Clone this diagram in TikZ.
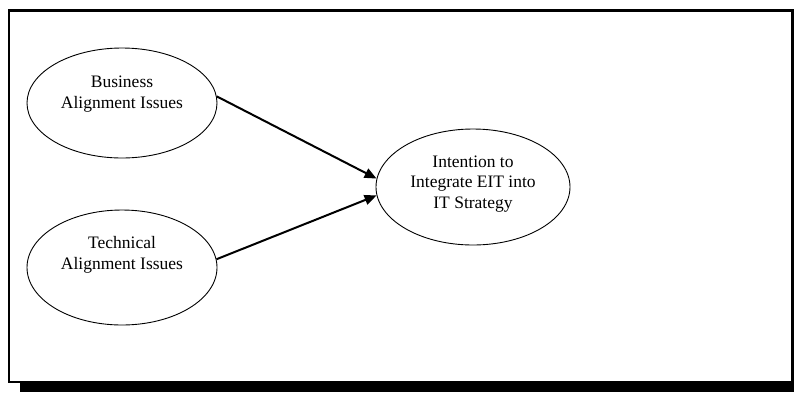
\documentclass[tikz,border=0pt]{standalone}
\usepackage{fontspec}
\setmainfont{Liberation Serif}
\usetikzlibrary{arrows.meta,shapes.geometric}
\tikzset{
  oval/.style={ellipse,draw=black,line width=0.9pt,inner sep=0pt},
  lbl/.style={align=center,inner sep=0pt,font=\fontsize{17.5}{20.5}\selectfont},
  link/.style={-{Triangle[length=12pt,width=10pt]},line width=2pt},
}

\begin{document}
\begin{tikzpicture}[x=1pt,y=-1pt]
  \useasboundingbox (0,0) rectangle (794,392);
  % frame with its shadow
  \fill[black] (20,382) rectangle (794,392);
  \draw[line width=2.5pt] (9,10.5) rectangle (792.5,382);
  \node[oval,minimum width=190pt,minimum height=110pt] (bus) at (122,103) {};
  \node[lbl] (bustxt) at (122,94) {Business\\Alignment Issues};
  \node[oval,minimum width=190pt,minimum height=115pt] (tech) at (122,267.5) {};
  \node[lbl] (techtxt) at (122,255) {Technical\\Alignment Issues};
  \node[oval,minimum width=194pt,minimum height=116pt] (int) at (473,187) {};
  \node[lbl] (inttxt) at (473,184) {Intention to\\Integrate EIT into\\IT Strategy};
  \draw[link] (bus.4) -- (int.175);
  \draw[link] (tech.5) -- (int.185);
\end{tikzpicture}
\end{document}
